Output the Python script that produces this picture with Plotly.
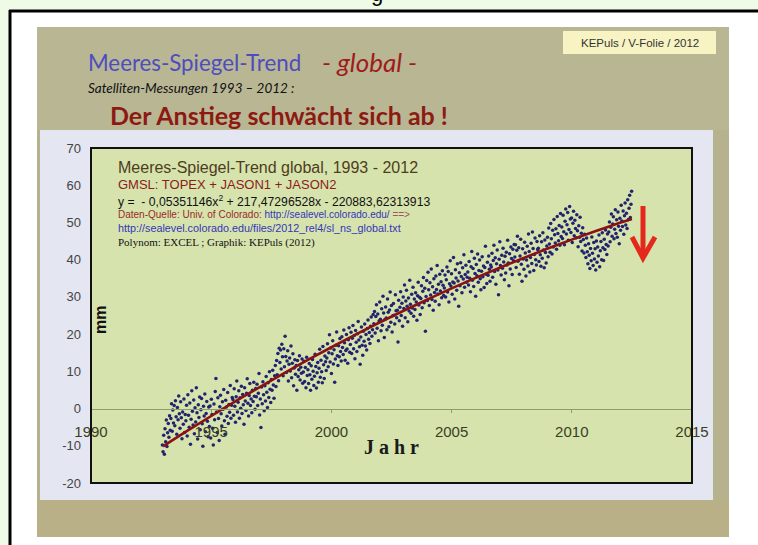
import plotly.graph_objects as go

W, H = 758, 545

# ---------------- data ----------------
start_year = 1992.97          # first altimeter cycle
cycle_days = 9.9156           # TOPEX/Jason repeat cycle

sl_1993 = [-9.8, -11.6, -7.2, -12.3, -5.4, -8.9, -3.1, -10.2, -6.5, -4.0, -7.7, -1.9, -5.8, -2.7, 1.3, -6.1, -0.4, -3.9,
           0.8, -4.6, 2.1, -2.2, -6.9, 0.3, -3.0, 3.4, -1.4, -5.3, 1.8, -2.5, -8.1, -0.9, -4.2, 2.6, -6.4, -1.6]
sl_1994 = [-3.3, 0.9, -7.4, 3.7, -1.8, -5.0, 1.5, -9.6, -2.9, 4.8, -0.7, -4.4, 2.3, -6.8, 0.2, -3.6, 5.6, -1.1,
           -8.2, 1.0, -2.4, 3.1, -5.7, -0.3, 2.7, -4.1, -10.1, 0.6, -2.0, 3.9, -6.2, -1.3, 1.9, -3.4, -7.6, 0.4]
sl_1995 = [-4.8, 0.7, -7.9, 2.5, -1.6, -5.3, -9.8, 1.2, -3.0, 4.6, 8.1, -0.9, -6.4, 2.9, -2.7, -8.6, 0.5, 3.6,
           -1.4, -4.7, 1.8, -0.2, 5.1, -3.3, -6.9, 2.2, 0.4, -2.1, 4.3, -4.0, 1.1, -1.0, 6.2, -2.6, 0.9, 3.0]
sl_1996 = [2.4, -1.8, 5.3, 0.6, -3.7, 3.2, 7.4, -0.9, 1.7, 4.8, -2.6, 2.9, 0.1, 6.0, -1.3, 3.8, 1.0, -4.2,
           5.6, 2.0, -0.5, 4.1, 8.0, 1.4, -2.0, 3.5, 6.7, 0.8, 2.6, -1.1, 4.9, 1.9, 7.1, 3.3, -0.2, 5.4]
sl_1997 = [3.2, 6.5, 0.8, 4.1, 9.4, -1.7, 2.6, -5.1, 5.8, 1.3, 7.2, 3.7, -0.6, 6.1, 2.0, 8.6, 4.4, 0.3,
           6.9, 3.0, 9.9, 5.2, 1.6, 7.8, 4.9, 10.3, 6.3, 2.8, 8.8, 11.6, 5.9, 12.9, 9.1, 14.8, 7.5, 16.2]
sl_1998 = [12.4, 15.7, 10.6, 17.3, 13.9, 8.8, 16.1, 11.2, 19.4, 14.0, 9.7, 12.8, 15.5, 7.4, 11.9, 13.6, 10.1, 16.8,
           8.3, 12.2, 14.7, 6.1, 10.9, 13.1, 9.2, 11.6, 4.9, 12.9, 8.6, 10.4, 14.2, 7.7, 11.1, 9.5, 13.3, 6.8]
sl_1999 = [9.8, 12.7, 7.3, 11.0, 5.6, 13.8, 8.9, 10.4, 6.7, 12.1, 9.1, 4.9, 11.5, 7.9, 13.2, 10.0, 6.2, 8.7,
           14.6, 11.3, 5.5, 9.6, 12.4, 7.1, 10.8, 15.9, 8.4, 13.0, 9.9, 6.9, 16.7, 11.8, 8.1, 14.1, 12.6, 10.2]
sl_2000 = [13.6, 17.4, 11.2, 15.0, 19.8, 12.5, 16.3, 9.4, 14.7, 18.2, 12.0, 15.8, 7.1, 13.3, 17.0, 20.6, 14.2, 11.6,
           16.9, 13.9, 18.8, 15.3, 12.8, 19.3, 16.4, 14.5, 21.1, 17.7, 13.0, 15.6, 19.9, 16.0, 12.2, 18.5, 21.7, 15.1]
sl_2001 = [17.2, 20.5, 14.8, 18.9, 22.3, 16.1, 19.6, 13.4, 21.0, 17.8, 15.3, 20.1, 23.4, 18.4, 16.6, 11.9, 19.2, 21.9,
           17.0, 14.3, 20.8, 18.1, 22.7, 16.8, 19.9, 15.7, 21.5, 23.8, 18.6, 20.4, 17.5, 22.1, 24.6, 19.4, 21.2, 25.3]
sl_2002 = [22.8, 26.1, 20.3, 24.7, 27.9, 21.6, 25.4, 18.2, 23.5, 28.6, 24.0, 20.9, 26.8, 22.4, 30.2, 25.7, 19.1, 23.9,
           27.3, 24.3, 21.2, 29.4, 25.9, 22.0, 26.5, 31.3, 23.2, 27.7, 20.6, 24.9, 28.2, 25.1, 22.7, 30.6, 26.3, 24.4]
sl_2003 = [26.4, 17.9, 29.1, 23.6, 27.2, 31.4, 25.0, 28.3, 22.1, 30.0, 26.9, 33.2, 24.4, 28.9, 31.8, 27.5, 23.3, 29.7,
           26.2, 34.5, 28.0, 25.6, 30.7, 27.0, 32.6, 24.8, 29.4, 26.6, 31.1, 28.6, 23.7, 30.3, 33.9, 27.8, 29.9, 25.3]
sl_2004 = [29.6, 33.0, 27.1, 31.5, 35.2, 28.4, 32.3, 20.8, 30.1, 34.4, 29.0, 36.6, 31.9, 27.7, 33.8, 30.5, 37.5, 29.3,
           32.7, 26.4, 34.9, 31.2, 28.8, 35.6, 32.0, 38.4, 30.8, 33.4, 27.9, 36.1, 31.6, 34.1, 29.8, 37.0, 33.1, 30.4]
sl_2005 = [32.4, 35.9, 30.0, 34.6, 38.0, 31.3, 36.8, 28.6, 33.5, 39.7, 32.9, 36.2, 30.7, 34.0, 40.6, 33.7, 29.4, 37.3,
           35.1, 31.8, 38.9, 34.3, 27.5, 36.5, 33.0, 39.2, 35.5, 31.1, 37.8, 34.8, 41.3, 32.6, 36.0, 38.5, 33.9, 35.3]
sl_2006 = [36.7, 33.2, 39.5, 35.0, 31.4, 38.1, 42.2, 34.5, 37.6, 32.8, 40.4, 36.3, 30.2, 38.7, 35.7, 41.5, 33.9, 37.1,
           39.9, 34.9, 31.9, 36.9, 40.8, 35.4, 38.3, 32.5, 37.9, 43.6, 36.1, 33.6, 39.3, 35.8, 41.0, 37.4, 34.2, 38.6]
sl_2007 = [38.0, 41.7, 35.3, 39.8, 43.9, 36.8, 40.5, 33.4, 38.9, 42.6, 37.2, 30.6, 40.1, 44.8, 38.4, 35.9, 41.2, 37.7,
           43.1, 39.4, 34.6, 40.9, 36.4, 42.0, 38.6, 45.2, 39.1, 33.0, 41.6, 37.5, 43.4, 40.3, 36.0, 42.8, 39.7, 44.1]
sl_2008 = [40.7, 44.0, 37.9, 42.5, 46.3, 39.6, 43.2, 36.1, 41.0, 45.5, 38.8, 34.2, 42.9, 40.2, 37.4, 44.7, 41.8, 35.6,
           39.9, 43.6, 38.3, 46.9, 42.2, 36.7, 40.6, 44.4, 39.0, 47.4, 43.0, 37.1, 41.4, 45.8, 40.0, 38.6, 44.9, 42.7]
sl_2009 = [43.1, 39.5, 46.4, 41.3, 38.2, 44.8, 40.4, 47.2, 42.6, 37.8, 45.3, 41.9, 39.1, 43.7, 46.0, 40.8, 48.5, 44.2,
           42.0, 49.7, 45.6, 41.5, 47.9, 43.4, 50.8, 46.7, 44.5, 48.3, 42.8, 51.6, 47.0, 45.1, 49.2, 43.9, 52.4, 46.2]
sl_2010 = [48.8, 45.7, 51.9, 47.5, 44.0, 50.3, 53.6, 46.9, 49.4, 52.7, 45.2, 48.1, 54.3, 50.9, 47.3, 51.2, 44.6, 49.8,
           53.0, 46.4, 50.6, 48.4, 45.9, 52.1, 47.8, 43.5, 49.1, 46.0, 51.4, 44.9, 47.1, 42.3, 48.6, 45.4, 41.8, 46.8]
sl_2011 = [43.9, 40.6, 45.8, 42.1, 38.9, 44.3, 41.2, 37.6, 43.0, 39.7, 46.1, 41.7, 38.4, 44.6, 40.2, 42.9, 37.2, 45.0,
           39.3, 43.4, 41.0, 46.6, 38.1, 42.4, 44.9, 40.0, 47.2, 43.2, 39.8, 45.5, 42.7, 48.0, 44.1, 41.4, 46.9, 43.7]
sl_2012 = [47.4, 50.1, 44.8, 48.7, 52.3, 46.3, 49.6, 51.5, 45.6, 48.2, 53.4, 47.0, 50.7, 46.0, 52.8, 49.0, 44.3, 51.1,
           47.9, 54.6, 50.4, 48.9, 53.1, 46.8, 51.8, 55.2, 49.3, 52.5, 48.4, 56.1, 50.8, 53.8, 57.3, 51.3, 54.9, 58.4]

trend_years = [1993, 1994, 1995, 1996, 1997, 1998, 1999, 2000, 2001, 2002, 2003,
               2004, 2005, 2006, 2007, 2008, 2009, 2010, 2011, 2012, 2012.5]
trend_mm = [-10.14, -6.02, -2.00, 1.90, 5.70, 9.40, 12.99, 16.47, 19.84, 23.11, 26.27,
            29.32, 32.27, 35.10, 37.84, 40.46, 42.98, 45.39, 47.69, 49.89, 50.95]

x_ticks = [1990, 1995, 2000, 2005, 2010, 2015]
x_labels = ["1990", "1995", "2000", "2005", "2010", "2015"]
y_ticks = [-20, -10, 0, 10, 20, 30, 40, 50, 60, 70]
y_labels = ["-20", "-10", "0", "10", "20", "30", "40", "50", "60", "70"]

# ---------------- build ----------------
gmsl = (sl_1993 + sl_1994 + sl_1995 + sl_1996 + sl_1997 + sl_1998 + sl_1999 + sl_2000 + sl_2001 + sl_2002 +
        sl_2003 + sl_2004 + sl_2005 + sl_2006 + sl_2007 + sl_2008 + sl_2009 + sl_2010 + sl_2011 + sl_2012)
step = cycle_days / 365.25
times = [start_year + i * step for i in range(len(gmsl))]


def PX(x):
    return x / W


def PY(y):
    return 1 - y / H


ARIAL = "Liberation Sans, Arial, sans-serif"
TIMES = "Liberation Serif, Times New Roman, serif"
CAL = "Lato, Open Sans, sans-serif"

# plot area in pixels
PL, PR, PT, PB = 91, 692, 148, 483
y_rng = [-20, 70]
x_rng = [1990, 2015]
ydom = [PY(PB), PY(PT)]
zero_pos = ydom[0] + (0 - y_rng[0]) / (y_rng[1] - y_rng[0]) * (ydom[1] - ydom[0])

fig = go.Figure()
fig.add_trace(go.Scatter(x=times, y=gmsl, mode="markers",
                         marker=dict(size=3.5, color="#22236e"), hoverinfo="skip", showlegend=False))
fig.add_trace(go.Scatter(x=trend_years, y=trend_mm, mode="lines", line=dict(color="#8a1212", width=2.6),
                         line_shape="spline", hoverinfo="skip", showlegend=False))


def rect(x0, y0, x1, y1, fill=None, line=None, lw=0, layer="below"):
    return dict(type="rect", xref="paper", yref="paper", x0=PX(x0), x1=PX(x1), y0=PY(y1), y1=PY(y0),
                fillcolor=fill if fill else "rgba(0,0,0,0)",
                line=dict(color=line if line else "rgba(0,0,0,0)", width=lw), layer=layer)


def seg(x0, y0, x1, y1, color, lw, layer="below"):
    return dict(type="line", xref="paper", yref="paper", x0=PX(x0), x1=PX(x1), y0=PY(y0), y1=PY(y1),
                line=dict(color=color, width=lw), layer=layer)


shapes = [
    rect(0, 0, W, 10, fill="#f0fbe7"),
    rect(0, 0, 9, H, fill="#f0fbe7"),
    seg(9, 11, W, 11, "#000000", 3),
    seg(10, 10, 10, H, "#000000", 3),
    # slide
    rect(37, 27, 729, 537, fill="#b5b28d"),
    rect(37, 27, 729, 130, fill="#b8b693"),
    rect(37, 500, 729, 537, fill="#b9b087"),
    # light panel
    rect(40, 130, 713, 500, fill="#e4e7f1"),
    # plot area
    rect(PL, PT, PR, PB, fill="#d6e3ad"),
    rect(PL, PT, PR, PB, line="#111111", lw=2, layer="above"),
    # label box
    rect(563, 31, 716, 54, fill="#f7f3c2"),
    # red arrow
    seg(643, 206, 643, 256, "#e5281c", 5, layer="above"),
    dict(type="path", xref="paper", yref="paper",
         path="M {},{} L {},{} L {},{}".format(PX(632), PY(237), PX(643), PY(258), PX(655), PY(237)),
         line=dict(color="#e5281c", width=5), layer="above"),
]

ann = []


def txt(s, x, y, size, color, family, xanchor="left", angle=0):
    ann.append(dict(text=s, x=PX(x), y=PY(y), xref="paper", yref="paper", xanchor=xanchor, yanchor="middle",
                    showarrow=False, textangle=angle, font=dict(size=size, color=color, family=family)))


txt("g", 377, -6, 22, "#000000", ARIAL, xanchor="center")
txt("KEPuls / V-Folie / 2012", 640, 43, 11.5, "#333333", ARIAL, xanchor="center")
txt("Meeres-Spiegel-Trend", 86, 62, 22.3, "#4d4dc0", CAL)
txt("<i>- global -</i>", 320, 62, 26, "#a01c1c", CAL)
txt("<i>Satelliten-Messungen 1993 – 2012 :</i>", 86, 88, 13.5, "#111111", CAL)
txt("<b>Der Anstieg schwächt sich ab !</b>", 108, 115, 25, "#8c1a12", CAL)

txt("Meeres-Spiegel-Trend global, 1993 - 2012", 116, 167, 16, "#4f3d1c", ARIAL)
txt("GMSL: TOPEX + JASON1 + JASON2", 116, 184, 13, "#8b1c1c", ARIAL)
txt("y =  - 0,05351146x<sup>2</sup> + 217,47296528x - 220883,62313913", 116, 201, 12.2, "#111111", ARIAL)
txt("<span style='color:#9a2a2a'>Daten-Quelle: Univ. of Colorado: </span>"
    "<span style='color:#3535b8'>http://sealevel.colorado.edu/</span>"
    "<span style='color:#9a5a5a'> ==></span>", 116, 214, 10, "#9a2a2a", ARIAL)
txt("http://sealevel.colorado.edu/files/2012_rel4/sl_ns_global.txt", 116, 228, 10.8, "#3535b8", ARIAL)
txt("Polynom: EXCEL ; Graphik: KEPuls (2012)", 116, 242, 11, "#111111", TIMES)

txt("<b>mm</b>", 100, 320, 16, "#111111", ARIAL, xanchor="center", angle=-90)
txt("<b>J a h r</b>", 391, 447, 20, "#1a1a1a", TIMES, xanchor="center")

fig.update_layout(
    width=W, height=H, autosize=False,
    margin=dict(l=0, r=0, t=0, b=0, pad=0),
    paper_bgcolor="#ffffff", plot_bgcolor="rgba(0,0,0,0)",
    shapes=shapes, annotations=ann, showlegend=False,
    xaxis=dict(domain=[PX(PL), PX(PR)], range=x_rng, tickvals=x_ticks, ticktext=x_labels,
               anchor="free", position=zero_pos, showline=True, linecolor="#8e9c6e", linewidth=1,
               ticks="outside", ticklen=3, tickcolor="#8e9c6e", showgrid=False, zeroline=False,
               automargin=False,
               tickfont=dict(size=15, color="#393e22", family=ARIAL), ticklabelstandoff=6),
    yaxis=dict(domain=ydom, range=y_rng, tickvals=y_ticks, ticktext=y_labels, ticks="",
               showline=False, showgrid=False, zeroline=False, automargin=False,
               tickfont=dict(size=13, color="#444444", family=ARIAL), ticklabelstandoff=9),
)

fig.write_html("out.html", config={"displayModeBar": False},
               post_script="document.body.style.margin='0px';document.body.style.overflow='hidden';")
